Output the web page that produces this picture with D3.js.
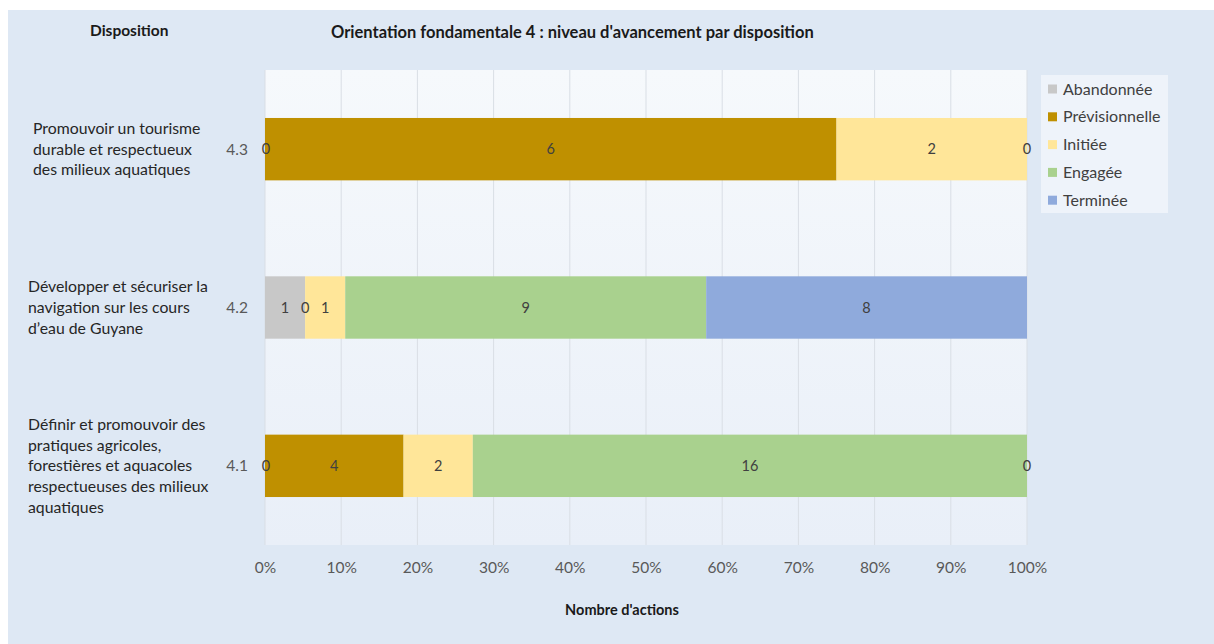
<!DOCTYPE html>
<html>
<head>
<meta charset="utf-8">
<script src="https://cdn.jsdelivr.net/npm/d3@7"></script>
<style>
  html, body { margin: 0; padding: 0; background: #ffffff; }
  svg { display: block; }
  text { font-family: "Lato", "Open Sans", sans-serif; }
</style>
</head>
<body>
<svg id="chart" width="1214" height="644"></svg>
<script>
// ---- Data ----
const categories = ["4.1", "4.2", "4.3"];
const categoryLabels = [
  ["Définir et promouvoir des", "pratiques agricoles,", "forestières et aquacoles", "respectueuses des milieux", "aquatiques"],
  ["Développer et sécuriser la", "navigation sur les cours", "d\u2019eau de Guyane"],
  ["Promouvoir un tourisme", "durable et respectueux", "des milieux aquatiques"]
];
const seriesNames = ["Abandonnée", "Prévisionnelle", "Initiée", "Engagée", "Terminée"];
const abandonnee     = [0, 1, 0];
const previsionnelle = [4, 0, 6];
const initiee        = [2, 1, 2];
const engagee        = [16, 9, 0];
const terminee       = [0, 8, null];
const seriesColors = ["#C8C8C8", "#BF9000", "#FFE699", "#A9D18E", "#8FAADC"];
const tickLabels = ["0%", "10%", "20%", "30%", "40%", "50%", "60%", "70%", "80%", "90%", "100%"];
const chartTitle = "Orientation fondamentale 4 : niveau d'avancement par disposition";
const leftTitle = "Disposition";
const xTitle = "Nombre d'actions";

const seriesValues = [abandonnee, previsionnelle, initiee, engagee, terminee];

// ---- Layout ----
const svg = d3.select("#chart");
const W = 1214, H = 644;
const plot = { left: 265, right: 1027, top: 70, bottom: 545 };

const defs = svg.append("defs");
const grad = defs.append("linearGradient").attr("id", "plotGrad")
  .attr("x1", 0).attr("y1", 0).attr("x2", 0).attr("y2", 1);
grad.append("stop").attr("offset", "0%").attr("stop-color", "#F6F9FC");
grad.append("stop").attr("offset", "100%").attr("stop-color", "#E9EFF8");

svg.append("rect").attr("x", 8).attr("y", 10).attr("width", W - 8).attr("height", H - 10)
  .attr("fill", "#DEE8F4");
svg.append("rect").attr("x", plot.left).attr("y", plot.top)
  .attr("width", plot.right - plot.left).attr("height", plot.bottom - plot.top)
  .attr("fill", "url(#plotGrad)");

const x = d3.scaleLinear().domain([0, 1]).range([plot.left, plot.right]);
const y = d3.scaleBand().domain(categories.slice().reverse())
  .range([plot.top, plot.bottom]).paddingInner(0.606).paddingOuter(0.303);

const ticks = d3.range(0, 1.0001, 0.1);
svg.append("g").selectAll("line").data(ticks).join("line")
  .attr("x1", d => x(d)).attr("x2", d => x(d))
  .attr("y1", plot.top).attr("y2", plot.bottom)
  .attr("stroke", "#D9DEE5").attr("stroke-width", 1);

const xAxis = d3.axisBottom(x).tickValues(ticks)
  .tickFormat((d, i) => tickLabels[i]).tickSize(0).tickPadding(0);
const gx = svg.append("g").attr("transform", `translate(0,${568})`).call(xAxis);
gx.select(".domain").remove();
gx.selectAll("text").attr("fill", "#595959").attr("font-size", 15.5)
  .attr("font-family", "Lato, sans-serif").attr("dy", "0.35em");

const rows = categories.map((c, i) => {
  const vals = seriesValues.map(s => s[i]);
  const total = d3.sum(vals, v => v || 0);
  let cum = 0;
  return vals.map((v, k) => {
    const x0 = cum / total;
    cum += (v || 0);
    return { cat: c, k, v, x0, x1: cum / total };
  });
});

const barG = svg.append("g");
rows.forEach(row => {
  row.forEach(d => {
    if (d.v === null) return;
    if (d.v > 0) {
      barG.append("rect")
        .attr("x", x(d.x0)).attr("y", y(d.cat))
        .attr("width", x(d.x1) - x(d.x0)).attr("height", y.bandwidth())
        .attr("fill", seriesColors[d.k]);
    }
  });
});
rows.forEach(row => {
  row.forEach(d => {
    if (d.v === null) return;
    barG.append("text")
      .attr("x", (x(d.x0) + x(d.x1)) / 2 + (d.v === 0 && d.x0 === 0 ? 1 : 0))
      .attr("y", y(d.cat) + y.bandwidth() / 2)
      .attr("dy", "0.35em").attr("text-anchor", "middle")
      .attr("font-size", 14.5).attr("fill", "#404040")
      .text(d.v);
  });
});

svg.append("g").selectAll("text").data(categories).join("text")
  .attr("x", 248).attr("y", d => y(d) + y.bandwidth() / 2)
  .attr("dy", "0.35em").attr("text-anchor", "end")
  .attr("font-size", 15.5).attr("fill", "#595959")
  .text(d => d);

const lineH = 20.8;
categories.forEach((c, i) => {
  const lines = categoryLabels[i];
  const cy = y(c) + y.bandwidth() / 2;
  const startY = cy - (lines.length - 1) * lineH / 2;
  const t = svg.append("text").attr("font-size", 15.8).attr("fill", "#262626");
  lines.forEach((ln, j) => {
    t.append("tspan").attr("x", c === "4.3" ? 33 : 28)
      .attr("y", startY + j * lineH).attr("dy", "0.35em").text(ln);
  });
});

svg.append("text").attr("x", 90).attr("y", 31).attr("dy", "0.35em")
  .attr("font-size", 15.5).attr("font-weight", "bold").attr("fill", "#1a1a1a").text(leftTitle);
svg.append("text").attr("x", 331).attr("y", 32).attr("dy", "0.35em")
  .attr("font-size", 16.5).attr("font-weight", "bold").attr("fill", "#1a1a1a").text(chartTitle);
svg.append("text").attr("x", 622).attr("y", 610).attr("dy", "0.35em").attr("text-anchor", "middle")
  .attr("font-size", 14.5).attr("font-weight", "bold").attr("fill", "#1a1a1a").text(xTitle);

const lg = svg.append("g");
lg.append("rect").attr("x", 1041).attr("y", 75).attr("width", 127).attr("height", 138)
  .attr("fill", "#EEF3FA");
seriesNames.forEach((n, i) => {
  const ly = 89 + i * 27.8;
  lg.append("rect").attr("x", 1048).attr("y", ly - 4.5).attr("width", 9).attr("height", 9)
    .attr("fill", seriesColors[i]);
  lg.append("text").attr("x", 1063).attr("y", ly).attr("dy", "0.35em")
    .attr("font-size", 16).attr("fill", "#404040").text(n);
});
</script>
</body>
</html>
